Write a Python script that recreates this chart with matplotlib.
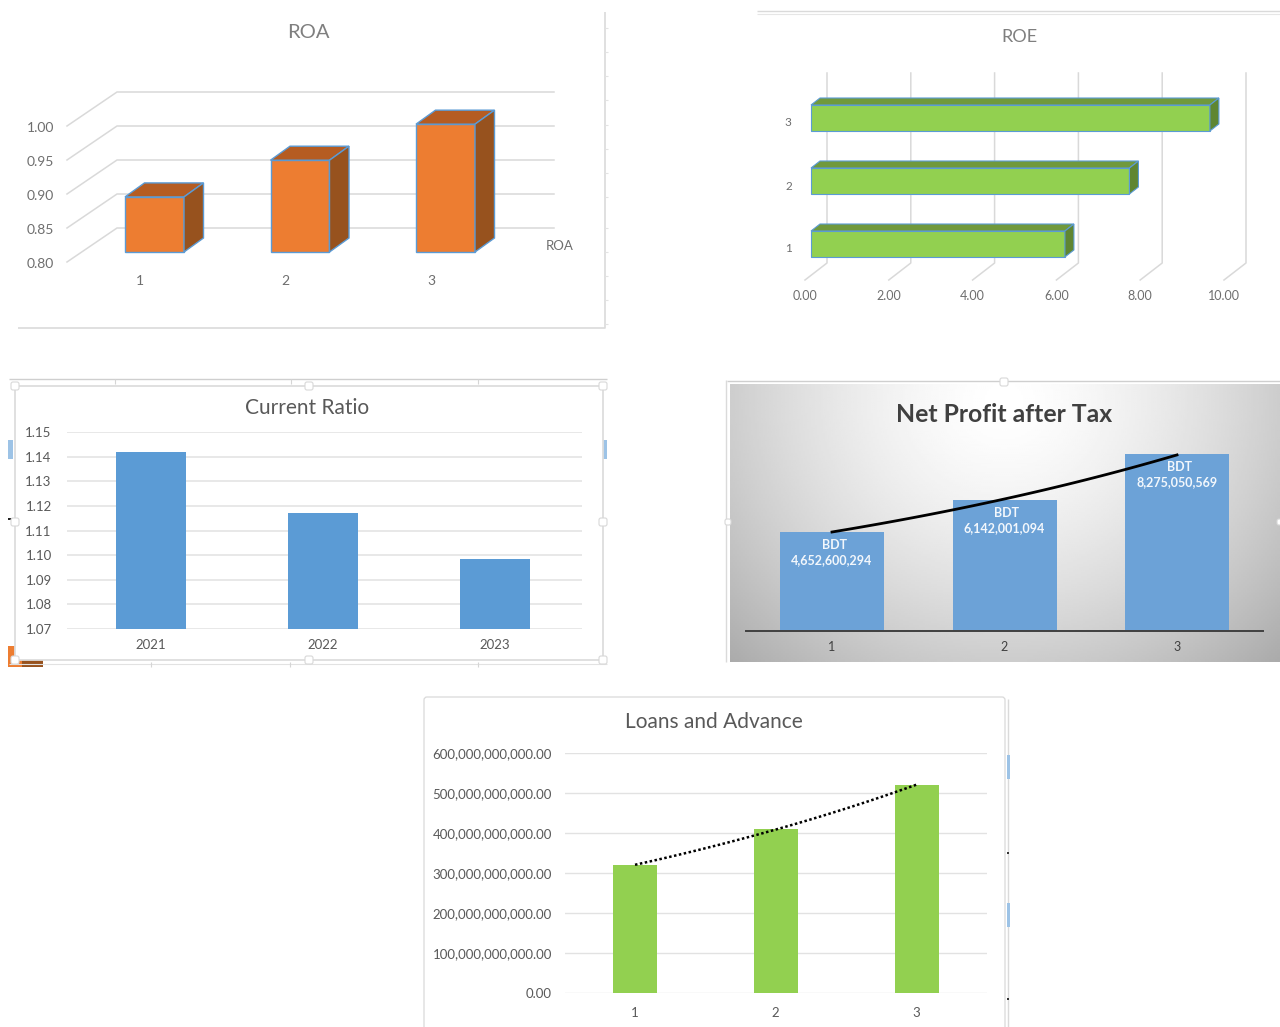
import numpy as np
import matplotlib
matplotlib.use('Agg')
import matplotlib.pyplot as plt
from matplotlib.patches import FancyBboxPatch, Rectangle
from matplotlib.transforms import Affine2D

W, H = 1280, 1027

plt.rcParams['font.family'] = ['Lato', 'DejaVu Sans']

# chart data
roa_labels = ['1', '2', '3']
roa_values = [0.881, 0.935, 0.988]
roa_ticks = [0.80, 0.85, 0.90, 0.95, 1.00]

roe_labels = ['1', '2', '3']
roe_values = [6.06, 7.6, 9.52]
roe_ticks = [0, 2, 4, 6, 8, 10]

current_years = ['2021', '2022', '2023']
current_values = [1.1419, 1.1171, 1.0984]
current_ticks = [1.07, 1.08, 1.09, 1.10, 1.11, 1.12, 1.13, 1.14, 1.15]

profit_labels = ['1', '2', '3']
profit_values = [4652600294, 6142001094, 8275050569]

loans_labels = ['1', '2', '3']
loans_values = [320e9, 410e9, 520e9]
loans_ticks = [0, 100e9, 200e9, 300e9, 400e9, 500e9, 600e9]

GRID = '#D9D9D9'
GREY_TEXT = '#6E6E6E'
TITLE_GREY = '#7F7F7F'
DARK_TEXT = '#595959'
EDGE_BLUE = '#5B9BD5'

fig = plt.figure(figsize=(W / 100, H / 100), dpi=100, facecolor='white')

# full page layer in pixels, for window frames and titles
page = fig.add_axes([0, 0, 1, 1], zorder=0)
page.set_xlim(0, W)
page.set_ylim(H, 0)
page.axis('off')


def chart_axes(left, top, right, bottom):
    ax = fig.add_axes([left / W, 1 - bottom / H, (right - left) / W, (bottom - top) / H], zorder=2)
    ax.patch.set_visible(False)
    for s in ax.spines.values():
        s.set_visible(False)
    ax.tick_params(length=0)
    return ax


def page_line(xs, ys, color=GRID, lw=1.0):
    page.plot(xs, ys, color=color, lw=lw, solid_capstyle='butt')


def handle(x, y, size=8):
    page.add_patch(FancyBboxPatch((x - size / 2, y - size / 2), size, size,
                                  boxstyle='round,pad=0,rounding_size=2',
                                  fc='white', ec='#D8D8D8', lw=0.8, zorder=5))


def nudge_down(labels, px):
    for lab in labels:
        lab.set_transform(lab.get_transform() + Affine2D().translate(0, -px))


def exp_trend(x, values, n=60):
    # exponential trendline fitted on the series
    k, c = np.polyfit(x, np.log(values), 1)
    xs = np.linspace(x[0], x[-1], n)
    return xs, np.exp(c + k * xs)


# ROA, 3D columns
page_line([18, 605, 605], [328, 328, 12], color='#DADADA', lw=1.2)
for ty in (28, 52, 76, 100, 125, 149, 173, 197, 228, 252, 276, 300, 324):
    page_line([605, 608], [ty, ty], color='#E3E3E3', lw=0.8)
page.text(308, 32.5, 'ROA', ha='center', va='center', fontsize=14.5, color=TITLE_GREY)

ax = chart_axes(67, 126, 504, 262)
step = 145.5
px_y = 136 / 0.2
ax.set_xlim(1 + (67 - 140) / step, 1 + (504 - 140) / step)
ax.set_ylim(0.80, 1.00)
x_pos = np.arange(1, 4)
wall_dx, wall_dy = 50 / step, 34 / px_y
x0, x1 = ax.get_xlim()
for v in roa_ticks:
    ax.plot([x0, x0 + wall_dx, x1 + wall_dx], [v, v + wall_dy, v + wall_dy],
            color=GRID, lw=1.1, clip_on=False, zorder=1)
bar_dx, lift = 14.5 / step, 10 / px_y
depth_x, depth_y = 19.5 / step, 14 / px_y
bar_w = 59 / step
heights = [v - 0.80 for v in roa_values]
ax.bar(x_pos + bar_dx, heights, width=bar_w, bottom=0.80 + lift, color='#ED7D31',
       edgecolor=EDGE_BLUE, lw=1.0, clip_on=False, zorder=3)
for xc, v in zip(x_pos + bar_dx, roa_values):
    xl, xr = xc - bar_w / 2, xc + bar_w / 2
    y0, y1 = 0.80 + lift, v + lift
    ax.fill([xl, xr, xr + depth_x, xl + depth_x], [y1, y1, y1 + depth_y, y1 + depth_y],
            fc='#B55C22', ec=EDGE_BLUE, lw=1.0, clip_on=False, zorder=3)
    ax.fill([xr, xr + depth_x, xr + depth_x, xr], [y0, y0 + depth_y, y1 + depth_y, y1],
            fc='#97521E', ec=EDGE_BLUE, lw=1.0, clip_on=False, zorder=3)
ax.set_xticks(x_pos, roa_labels)
ax.set_yticks(roa_ticks, [f'{v:.2f}' for v in roa_ticks])
ax.tick_params(axis='y', pad=9.5, labelsize=10, labelcolor=GREY_TEXT)
ax.tick_params(axis='x', pad=9.5, labelsize=10, labelcolor=GREY_TEXT)
nudge_down(ax.get_yticklabels(), 1.0)
page.text(559.5, 246.5, 'ROA', ha='center', va='center', fontsize=9.5, color=GREY_TEXT)

# ROE, 3D horizontal bars
page_line([757, 1280], [11, 11], color='#DADADA', lw=1.0)
page_line([757, 1280], [14, 14], color='#E6E6E6', lw=0.8)
page.text(1019.5, 36.5, 'ROE', ha='center', va='center', fontsize=13, color=TITLE_GREY)

per_x, per_y = 41.9, 63.0
ax = chart_axes(805, 90, 805 + 10 * per_x, 280)
ax.set_xlim(0, 10)
ax.set_ylim(1 - (280 - 248) / per_y, 1 + (248 - 90) / per_y)
y_pos = np.arange(1, 4)
wall_dx, wall_dy = 22 / per_x, 17 / per_y
y0, y1 = ax.get_ylim()
for v in roe_ticks:
    ax.plot([v, v + wall_dx, v + wall_dx], [y0, y0 + wall_dy, y1 + wall_dy],
            color=GRID, lw=1.1, clip_on=False, zorder=1)
bar_dx, bar_dy = 6 / per_x, 4 / per_y
depth_x, depth_y = 9 / per_x, 7 / per_y
bar_h = 26 / per_y
ax.barh(y_pos + bar_dy, roe_values, height=bar_h, left=bar_dx, color='#92D050',
        edgecolor=EDGE_BLUE, lw=0.8, clip_on=False, zorder=3)
for yc, v in zip(y_pos + bar_dy, roe_values):
    yb, yt = yc - bar_h / 2, yc + bar_h / 2
    xl, xr = bar_dx, v + bar_dx
    ax.fill([xl, xr, xr + depth_x, xl + depth_x], [yt, yt, yt + depth_y, yt + depth_y],
            fc='#70993C', ec=EDGE_BLUE, lw=0.8, clip_on=False, zorder=3)
    ax.fill([xr, xr + depth_x, xr + depth_x, xr], [yb, yb + depth_y, yt + depth_y, yt],
            fc='#5F8632', ec=EDGE_BLUE, lw=0.8, clip_on=False, zorder=3)
ax.set_yticks(y_pos, roe_labels)
ax.set_xticks(roe_ticks, [f'{v:.2f}' for v in roe_ticks])
ax.tick_params(axis='y', pad=9.5, labelsize=8.5, labelcolor=GREY_TEXT)
ax.tick_params(axis='x', pad=7, labelsize=9, labelcolor=GREY_TEXT)

# Current Ratio window, with the sheet showing round it
page_line([9, 607], [379, 379], color='#CFCFCF', lw=1.0)
page_line([9, 607], [664, 664], color='#E2E2E2', lw=0.8)
for tx in (115, 291, 478):
    page_line([tx, tx], [379, 384], color='#D5D5D5', lw=0.8)
for tx in (151, 290, 478):
    page_line([tx, tx], [662, 667], color='#D5D5D5', lw=0.8)
page.add_patch(Rectangle((8, 440), 5, 19, fc='#9DC3E6', ec='none'))
page.add_patch(Rectangle((603, 440), 4, 19, fc='#9DC3E6', ec='none'))
page.add_patch(Rectangle((8, 646), 22, 21, fc='#ED7D31', ec='none'))
page.add_patch(Rectangle((22, 654), 21, 13, fc='#97521E', ec='none'))
page.add_patch(Rectangle((8, 518), 5, 2, fc='#222222', ec='none'))
page.add_patch(FancyBboxPatch((15, 386), 588, 274, boxstyle='round,pad=0,rounding_size=3',
                              fc='white', ec='#DDDDDD', lw=1.3, zorder=2))
for hx, hy in [(15, 386), (309, 386), (603, 386), (15, 522), (603, 522),
               (15, 660), (309, 660), (603, 660)]:
    handle(hx, hy)
page.text(307.5, 408.5, 'Current Ratio', ha='center', va='center', fontsize=15,
          color=DARK_TEXT, zorder=6)

ax = chart_axes(67, 432, 582, 629)
spacing = 172.0
ax.set_xlim((67 - 151) / spacing, (582 - 151) / spacing)
ax.set_ylim(1.07, 1.15)
x_pos = np.arange(3)
ax.set_yticks(current_ticks, [f'{v:.2f}' for v in current_ticks])
ax.yaxis.grid(True, color='#E2E2E2', lw=1.1)
ax.set_axisbelow(True)
ax.bar(x_pos, current_values, width=70 / spacing, color=EDGE_BLUE, zorder=3)
ax.set_xticks(x_pos, current_years)
ax.tick_params(axis='y', pad=11, labelsize=9.5, labelcolor=DARK_TEXT)
ax.tick_params(axis='x', pad=7, labelsize=9.5, labelcolor=DARK_TEXT)

# Net Profit after Tax, grey radial background
page_line([727, 1280], [381, 381], color='#CFCFCF', lw=1.0)
page_line([726, 726], [380, 662], color='#DADADA', lw=1.0)
gx, gy = np.meshgrid(np.linspace(730, 1280, 275), np.linspace(384, 662, 140))
dist = np.sqrt(((gx - 1004) / 350) ** 2 + ((gy - 400) / 330) ** 2)
shade = 1.0 - 0.28 * dist ** 1.5
page.imshow(shade, extent=(730, 1280, 662, 384), cmap='gray', vmin=0, vmax=1,
            aspect='auto', zorder=1, interpolation='bilinear')
page.set_xlim(0, W)
page.set_ylim(H, 0)
handle(1004, 382)
handle(728, 522, size=6)
handle(1280, 522, size=6)
page.text(1004, 414, 'Net Profit after Tax', ha='center', va='center', fontsize=17.8,
          fontweight='bold', color='#404040', zorder=6)

per_bdt = 21.35 / 1e9
ax = chart_axes(746, 631 - 9e9 * per_bdt, 1263, 631)
spacing = 172.5
ax.set_xlim(1 + (746 - 832) / spacing, 1 + (1263 - 832) / spacing)
ax.set_ylim(0, 9e9)
x_pos = np.arange(1, 4)
ax.bar(x_pos, profit_values, width=104 / spacing, color='#6CA2D7', zorder=2)
ax.spines['bottom'].set_visible(True)
ax.spines['bottom'].set_color('#404040')
ax.spines['bottom'].set_linewidth(1.4)
xs, ys = exp_trend(x_pos, profit_values)
ax.plot(xs, ys, color='black', lw=2.0, zorder=4)
for xc, v in zip(x_pos, profit_values):
    ax.annotate('BDT', (xc, v), xytext=(1.5, -13 * 0.72), textcoords='offset points',
                ha='center', va='center', fontsize=9, fontweight='bold', color='#F2F7FC', zorder=5)
    ax.annotate(f'{v:,}', (xc, v), xytext=(0, -28 * 0.72), textcoords='offset points',
                ha='center', va='center', fontsize=9, fontweight='bold', color='#F2F7FC', zorder=5)
ax.set_yticks([])
ax.set_xticks(x_pos, profit_labels)
ax.tick_params(axis='x', pad=7, labelsize=9, labelcolor='#404040')

# Loans and Advance window, cut off at the page bottom
page.add_patch(FancyBboxPatch((424, 697), 581, 345, boxstyle='round,pad=0,rounding_size=3',
                              fc='white', ec='#D9D9D9', lw=0.9, zorder=2))
page_line([1007.5, 1007.5], [699, 1027], color='#DADADA', lw=1.0)
page.add_patch(Rectangle((1007, 755), 2.5, 24, fc='#9DC3E6', ec='none', zorder=3))
page.add_patch(Rectangle((1007, 903), 2.5, 24, fc='#9DC3E6', ec='none', zorder=3))
page.add_patch(Rectangle((1007, 852), 2, 2, fc='#333333', ec='none', zorder=3))
page.add_patch(Rectangle((1007, 998), 2, 2, fc='#333333', ec='none', zorder=3))
page.text(714, 722.5, 'Loans and Advance', ha='center', va='center', fontsize=15,
          color=DARK_TEXT, zorder=6)

ax = chart_axes(565, 753, 987, 993)
spacing = 140.75
ax.set_xlim(1 + (565 - 635) / spacing, 1 + (987 - 635) / spacing)
ax.set_ylim(0, 600e9)
x_pos = np.arange(1, 4)
ax.set_yticks(loans_ticks, [f'{v:,.2f}' for v in loans_ticks])
ax.yaxis.grid(True, color='#E2E2E2', lw=1.0)
ax.set_axisbelow(True)
ax.bar(x_pos, loans_values, width=44 / spacing, color='#92D050', zorder=3)
xs, ys = exp_trend(x_pos, loans_values)
ax.plot(xs, ys, color='black', lw=1.8, ls=(0, (1, 1)), zorder=4)
ax.set_xticks(x_pos, loans_labels)
ax.tick_params(axis='y', pad=9.5, labelsize=9.5, labelcolor=DARK_TEXT)
ax.tick_params(axis='x', pad=10, labelsize=9.5, labelcolor=DARK_TEXT)

fig.savefig('out.png', dpi=100)
